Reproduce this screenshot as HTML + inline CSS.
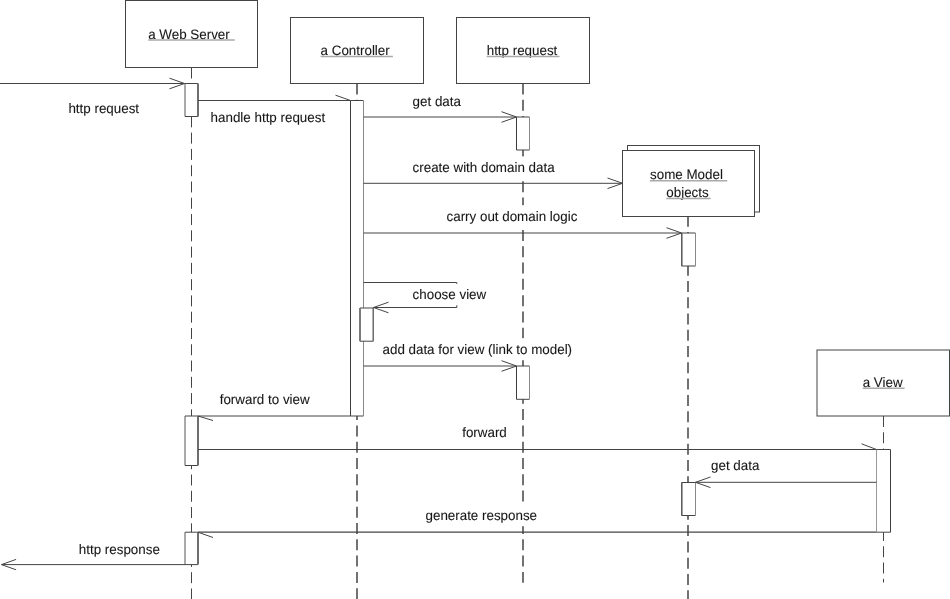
<!DOCTYPE html>
<html><head><meta charset="utf-8"><style>
html,body{margin:0;padding:0;background:#fff;overflow:hidden;}
svg{display:block;will-change:transform;}
text{font-family:"Liberation Sans",sans-serif;font-size:13.38px;fill:#161616;stroke:#161616;stroke-width:0.08px;text-rendering:geometricPrecision;}
</style></head><body>
<svg width="950" height="599" viewBox="0 0 950 599">
<line x1="191.5" y1="67.5" x2="191.5" y2="599" stroke="#444" stroke-width="1" stroke-dasharray="11 5.28"/>
<line x1="357" y1="83.5" x2="357" y2="599" stroke="#444" stroke-width="1.5" stroke-dasharray="11 5.28"/>
<line x1="523" y1="83.5" x2="523" y2="582.7" stroke="#444" stroke-width="1.5" stroke-dasharray="11 5.28"/>
<line x1="688" y1="215.8" x2="688" y2="599" stroke="#444" stroke-width="1.5" stroke-dasharray="11 5.28"/>
<line x1="883.5" y1="416" x2="883.5" y2="582.5" stroke="#444" stroke-width="1" stroke-dasharray="11 5.28"/>
<rect x="627.5" y="145.5" width="132.0" height="66.5" fill="#fff" stroke="#444" stroke-width="1"/>
<rect x="125.5" y="0.5" width="132.0" height="67.0" fill="#fff" stroke="#444" stroke-width="1"/>
<rect x="290.5" y="17.5" width="133.0" height="66.0" fill="#fff" stroke="#444" stroke-width="1"/>
<rect x="456.5" y="17.5" width="133.0" height="66.0" fill="#fff" stroke="#444" stroke-width="1"/>
<rect x="622.5" y="150.5" width="132.0" height="66.0" fill="#fff" stroke="#444" stroke-width="1"/>
<rect x="817" y="350" width="132.5" height="66" fill="#fff" stroke="#444" stroke-width="1"/>
<rect x="185" y="83.5" width="13" height="33.0" fill="#fff"/>
<line x1="185" y1="83.5" x2="198" y2="83.5" stroke="#444" stroke-width="1" />
<line x1="185" y1="116.5" x2="198" y2="116.5" stroke="#444" stroke-width="1" />
<line x1="185" y1="83.5" x2="185" y2="116.5" stroke="#555" stroke-width="1" />
<line x1="198" y1="83.5" x2="198" y2="116.5" stroke="#6e6e6e" stroke-width="2" />
<rect x="185" y="416" width="13" height="49.5" fill="#fff"/>
<line x1="185" y1="416" x2="198" y2="416" stroke="#444" stroke-width="1" />
<line x1="185" y1="465.5" x2="198" y2="465.5" stroke="#444" stroke-width="1" />
<line x1="185" y1="416" x2="185" y2="465.5" stroke="#555" stroke-width="1" />
<line x1="198" y1="416" x2="198" y2="465.5" stroke="#6e6e6e" stroke-width="2" />
<rect x="185" y="532.2" width="13" height="32.4" fill="#fff"/>
<line x1="185" y1="532.2" x2="198" y2="532.2" stroke="#444" stroke-width="1" />
<line x1="185" y1="564.6" x2="198" y2="564.6" stroke="#444" stroke-width="1" />
<line x1="185" y1="532.2" x2="185" y2="564.6" stroke="#555" stroke-width="1" />
<line x1="198" y1="532.2" x2="198" y2="564.6" stroke="#6e6e6e" stroke-width="2" />
<rect x="350.5" y="100.5" width="13.0" height="315.5" fill="#fff"/>
<line x1="350.5" y1="100.5" x2="363.5" y2="100.5" stroke="#444" stroke-width="1" />
<line x1="350.5" y1="416" x2="363.5" y2="416" stroke="#444" stroke-width="1" />
<line x1="350.5" y1="100.5" x2="350.5" y2="416" stroke="#3c3c3c" stroke-width="1" />
<line x1="363.5" y1="100.5" x2="363.5" y2="416" stroke="#888" stroke-width="1" />
<rect x="516.5" y="117" width="13.0" height="33" fill="#fff"/>
<line x1="516.5" y1="117" x2="529.5" y2="117" stroke="#444" stroke-width="1" />
<line x1="516.5" y1="150" x2="529.5" y2="150" stroke="#444" stroke-width="1" />
<line x1="516.5" y1="117" x2="516.5" y2="150" stroke="#3c3c3c" stroke-width="1" />
<line x1="529.5" y1="117" x2="529.5" y2="150" stroke="#888" stroke-width="1" />
<rect x="516.5" y="366" width="13.0" height="33.3" fill="#fff"/>
<line x1="516.5" y1="366" x2="529.5" y2="366" stroke="#444" stroke-width="1" />
<line x1="516.5" y1="399.3" x2="529.5" y2="399.3" stroke="#444" stroke-width="1" />
<line x1="516.5" y1="366" x2="516.5" y2="399.3" stroke="#3c3c3c" stroke-width="1" />
<line x1="529.5" y1="366" x2="529.5" y2="399.3" stroke="#888" stroke-width="1" />
<rect x="681.5" y="233" width="14.0" height="33" fill="#fff"/>
<line x1="681.5" y1="233" x2="695.5" y2="233" stroke="#444" stroke-width="1" />
<line x1="681.5" y1="266" x2="695.5" y2="266" stroke="#444" stroke-width="1" />
<line x1="681.8" y1="233" x2="681.8" y2="266" stroke="#555" stroke-width="1.5" />
<line x1="695.5" y1="233" x2="695.5" y2="266" stroke="#888" stroke-width="1" />
<rect x="681.5" y="482.5" width="14.0" height="33.0" fill="#fff"/>
<line x1="681.5" y1="482.5" x2="695.5" y2="482.5" stroke="#444" stroke-width="1" />
<line x1="681.5" y1="515.5" x2="695.5" y2="515.5" stroke="#444" stroke-width="1" />
<line x1="681.8" y1="482.5" x2="681.8" y2="515.5" stroke="#555" stroke-width="1.5" />
<line x1="695.5" y1="482.5" x2="695.5" y2="515.5" stroke="#888" stroke-width="1" />
<rect x="876.5" y="449.5" width="14.0" height="82.7" fill="#fff"/>
<line x1="876.5" y1="449.5" x2="890.5" y2="449.5" stroke="#444" stroke-width="1" />
<line x1="876.5" y1="532.2" x2="890.5" y2="532.2" stroke="#444" stroke-width="1" />
<line x1="876.5" y1="449.5" x2="876.5" y2="532.2" stroke="#999" stroke-width="1" />
<line x1="890.5" y1="449.5" x2="890.5" y2="532.2" stroke="#3c3c3c" stroke-width="1" />
<line x1="0" y1="83.5" x2="184.5" y2="83.5" stroke="#444" stroke-width="1" />
<polyline points="169.5,78.2 184.5,83.5 169.5,88.8" fill="none" stroke="#444" stroke-width="1"/>
<line x1="198" y1="100.5" x2="350.5" y2="100.5" stroke="#444" stroke-width="1" />
<line x1="335.5" y1="95.2" x2="350.5" y2="100.5" stroke="#444" stroke-width="1" />
<line x1="363.5" y1="117" x2="516.5" y2="117" stroke="#444" stroke-width="1" />
<polyline points="501.5,111.7 516.5,117 501.5,122.3" fill="none" stroke="#444" stroke-width="1"/>
<line x1="363.5" y1="183.3" x2="622.5" y2="183.3" stroke="#444" stroke-width="1" />
<polyline points="607.5,178.0 622.5,183.3 607.5,188.60000000000002" fill="none" stroke="#444" stroke-width="1"/>
<line x1="363.5" y1="233" x2="681.5" y2="233" stroke="#444" stroke-width="1" />
<polyline points="666.5,227.7 681.5,233 666.5,238.3" fill="none" stroke="#444" stroke-width="1"/>
<polyline points="363.5,282.5 456.8,282.5 456.8,307.5 373.2,307.5" fill="none" stroke="#444" stroke-width="1"/>
<polyline points="388.5,302.2 373.5,307.5 388.5,312.8" fill="none" stroke="#444" stroke-width="1"/>
<rect x="360" y="308" width="13.2" height="33.2" fill="#fff"/>
<line x1="360" y1="308" x2="373.2" y2="308" stroke="#444" stroke-width="1" />
<line x1="360" y1="341.2" x2="373.2" y2="341.2" stroke="#444" stroke-width="1" />
<line x1="360" y1="308" x2="360" y2="341.2" stroke="#7a7a7a" stroke-width="2" />
<line x1="373.2" y1="308" x2="373.2" y2="341.2" stroke="#555" stroke-width="1.3" />
<line x1="363.5" y1="366" x2="516.5" y2="366" stroke="#444" stroke-width="1" />
<polyline points="501.5,360.7 516.5,366 501.5,371.3" fill="none" stroke="#444" stroke-width="1"/>
<line x1="350.5" y1="416" x2="198" y2="416" stroke="#444" stroke-width="1" />
<line x1="213" y1="420.5" x2="198" y2="416" stroke="#444" stroke-width="1" />
<line x1="198" y1="449.5" x2="876.5" y2="449.5" stroke="#444" stroke-width="1" />
<line x1="861.5" y1="443.8" x2="876.5" y2="449.5" stroke="#444" stroke-width="1" />
<line x1="876.5" y1="482.3" x2="695.5" y2="482.3" stroke="#444" stroke-width="1" />
<polyline points="710.5,477.0 695.5,482.3 710.5,487.6" fill="none" stroke="#444" stroke-width="1"/>
<line x1="876.5" y1="532.2" x2="198" y2="532.2" stroke="#444" stroke-width="1.2" />
<line x1="213" y1="537.5" x2="198" y2="532.2" stroke="#444" stroke-width="1" />
<line x1="185" y1="564.6" x2="1.5" y2="564.6" stroke="#444" stroke-width="1" />
<polyline points="16.1,559.4 1.5,564.6 16.1,569.8000000000001" fill="none" stroke="#444" stroke-width="1"/>
<rect x="67.4" y="97.3" width="72.66" height="21.3" fill="#fff"/>
<text transform="translate(68.4,112.8) scale(1,1.02)">http request</text>
<rect x="209.6" y="106.3" width="116.55" height="21.3" fill="#fff"/>
<text transform="translate(210.6,121.8) scale(1,1.02)">handle http request</text>
<rect x="411.6" y="90.2" width="50.35" height="21.3" fill="#fff"/>
<text transform="translate(412.6,105.7) scale(1,1.02)">get data</text>
<rect x="411.6" y="156.4" width="144.05" height="21.3" fill="#fff"/>
<text transform="translate(412.6,171.9) scale(1,1.02)">create with domain data</text>
<rect x="445.5" y="205.2" width="132.88" height="21.3" fill="#fff"/>
<text transform="translate(446.5,220.7) scale(1,1.02)">carry out domain logic</text>
<rect x="411.6" y="283.9" width="75.63" height="21.3" fill="#fff"/>
<text transform="translate(412.6,299.4) scale(1,1.02)">choose view</text>
<rect x="381.5" y="338.2" width="191.63" height="21.3" fill="#fff"/>
<text transform="translate(382.5,353.7) scale(1,1.02)">add data for view (link to model)</text>
<rect x="218.7" y="388.0" width="91.97" height="21.3" fill="#fff"/>
<text transform="translate(219.7,403.5) scale(1,1.02)">forward to view</text>
<rect x="461.2" y="421.7" width="46.61" height="21.3" fill="#fff"/>
<text transform="translate(462.2,437.2) scale(1,1.02)">forward</text>
<rect x="710" y="454.4" width="50.35" height="21.3" fill="#fff"/>
<text transform="translate(711,469.9) scale(1,1.02)">get data</text>
<rect x="424.5" y="504.9" width="113.57" height="21.3" fill="#fff"/>
<text transform="translate(425.5,520.4) scale(1,1.02)">generate response</text>
<rect x="77.8" y="538.2" width="83.07" height="21.3" fill="#fff"/>
<text transform="translate(78.8,553.7) scale(1,1.02)">http response</text>
<text transform="translate(148.2,39) scale(1,1.02)">a Web Server</text>
<line x1="148.2" y1="40.1" x2="234.8" y2="40.1" stroke="#aaa" stroke-width="1.5" />
<text transform="translate(320.6,55.3) scale(1,1.02)">a Controller</text>
<line x1="320.6" y1="56.6" x2="392.9" y2="56.6" stroke="#aaa" stroke-width="1.5" />
<text transform="translate(486.7,54.7) scale(1,1.02)">http request</text>
<line x1="486.7" y1="56.5" x2="559.5" y2="56.5" stroke="#aaa" stroke-width="1.5" />
<text transform="translate(650,179.4) scale(1,1.02)">some Model</text>
<line x1="650" y1="180.8" x2="727.2" y2="180.8" stroke="#aaa" stroke-width="1.5" />
<text transform="translate(666.3,197.4) scale(1,1.02)">objects</text>
<line x1="666.3" y1="198.6" x2="710.7" y2="198.6" stroke="#aaa" stroke-width="1.5" />
<text transform="translate(862.7,386.5) scale(1,1.02)">a View</text>
<line x1="862.7" y1="388.3" x2="904.6" y2="388.3" stroke="#aaa" stroke-width="1.5" />
</svg>
</body></html>
